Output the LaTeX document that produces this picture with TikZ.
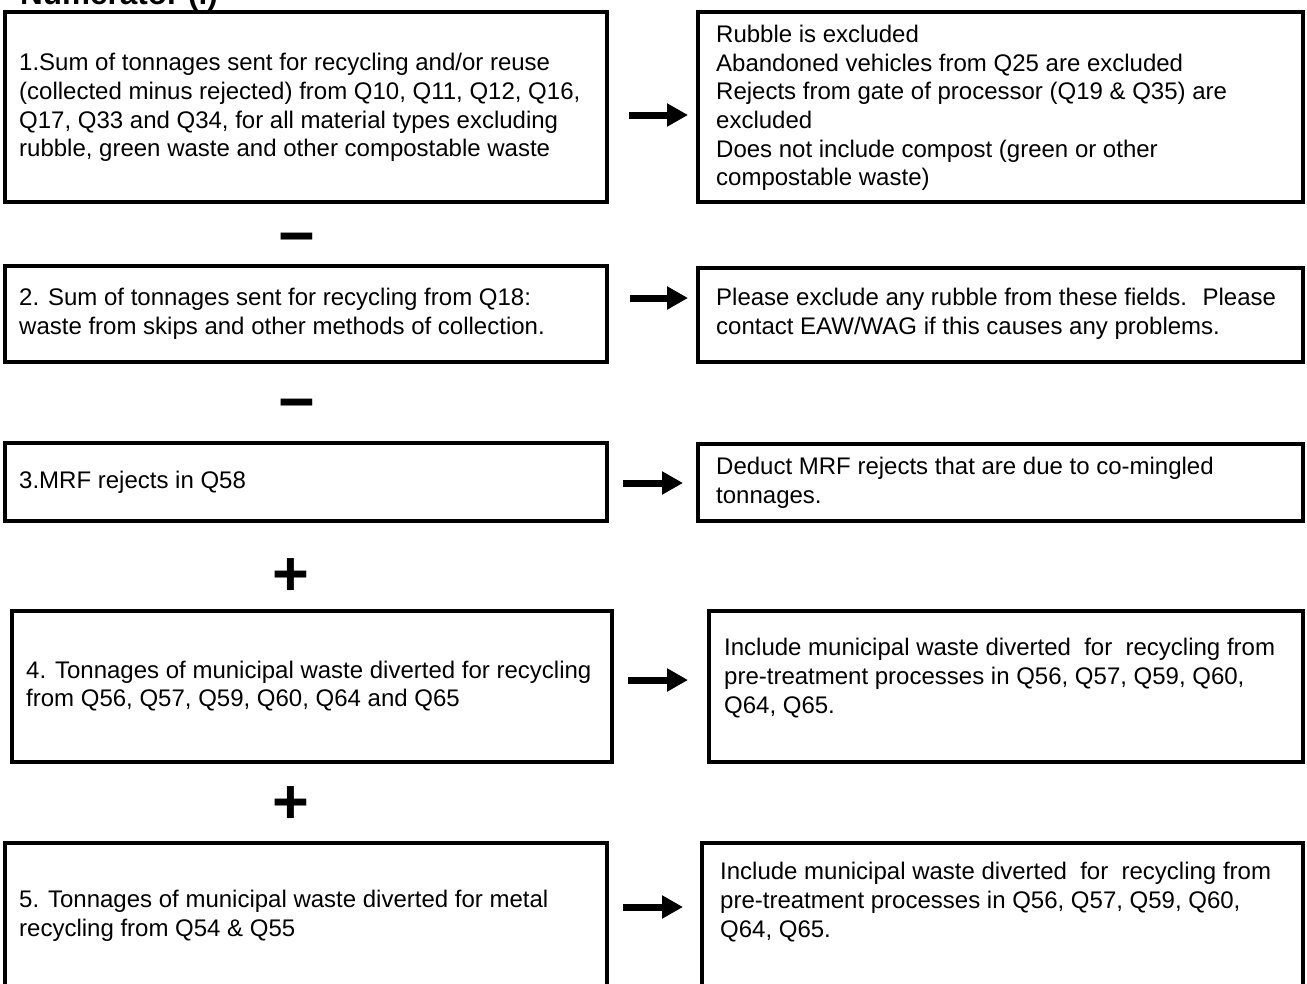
\documentclass[tikz,border=0pt]{standalone}
\usepackage{fontspec}
\setmainfont{Liberation Sans}
\usetikzlibrary{arrows.meta}

\tikzset{
  frame/.style={draw, line width=3.5pt, inner sep=0pt},
  txt/.style={anchor=west, align=left, inner sep=0pt, font=\fontsize{24}{28.7}\selectfont},
  sign/.style={anchor=base, inner sep=0pt, font=\fontsize{63}{63}\selectfont\bfseries},
  fat arrow/.style={line width=7pt, -{Triangle[length=21pt,width=22pt]}}
}

\begin{document}
\begin{tikzpicture}[x=1pt, y=-1pt]
  \useasboundingbox (0,0) rectangle (1307,983);
  % heading, cut by the page edge
  \node[anchor=base west, inner sep=0pt, font=\fontsize{31.5}{31.5}\selectfont\bfseries] (title) at (20,4) {Numerator (i)};

  % left column
  \node[frame, minimum width=602pt, minimum height=190pt] (b1) at (306,107) {};
  \node[frame, minimum width=602pt, minimum height=96pt] (b2) at (306,314) {};
  \node[frame, minimum width=602pt, minimum height=78pt] (b3) at (306,482) {};
  \node[frame, minimum width=600pt, minimum height=151pt] (b4) at (312,686.5) {};
  \node[frame, minimum width=602pt, minimum height=144pt] (b5) at (306,915) {};
  \node[txt] (t1) at (19,107.5) {1.Sum of tonnages sent for recycling and/or reuse\\(collected minus rejected) from Q10, Q11, Q12, Q16,\\Q17, Q33 and Q34, for all material types excluding\\rubble, green waste and other compostable waste};
  \node[txt] (t2) at (19,314) {2. Sum of tonnages sent for recycling from Q18:\\waste from skips and other methods of collection.};
  \node[txt] (t3) at (19,482) {3.MRF rejects in Q58};
  \node[txt] (t4) at (26,686) {4. Tonnages of municipal waste diverted for recycling\\from Q56, Q57, Q59, Q60, Q64 and Q65};
  \node[txt] (t5) at (19,915.5) {5. Tonnages of municipal waste diverted for metal\\recycling from Q54 \& Q55};

  % right column
  \node[frame, minimum width=605pt, minimum height=190pt] (r1) at (1000.5,107) {};
  \node[frame, minimum width=605pt, minimum height=94pt] (r2) at (1000.5,315) {};
  \node[frame, minimum width=605pt, minimum height=77pt] (r3) at (1000.5,482.5) {};
  \node[frame, minimum width=594pt, minimum height=151pt] (r4) at (1006,686.5) {};
  \node[frame, minimum width=601pt, minimum height=144pt] (r5) at (1002.5,915) {};
  \node[txt] (u1) at (716,108) {Rubble is excluded\\Abandoned vehicles from Q25 are excluded\\Rejects from gate of processor (Q19 \& Q35) are\\excluded\\Does not include compost (green or other\\compostable waste)};
  \node[txt] (u2) at (716,314) {Please exclude any rubble from these fields.~ Please\\contact EAW/WAG if this causes any problems.};
  \node[txt] (u3) at (716,483) {Deduct MRF rejects that are due to co-mingled\\tonnages.};
  \node[txt] (u4) at (724,678) {Include municipal waste diverted~ for~ recycling from\\pre-treatment processes in Q56, Q57, Q59, Q60,\\Q64, Q65.};
  \node[txt] (u5) at (720,902) {Include municipal waste diverted~ for~ recycling from\\pre-treatment processes in Q56, Q57, Q59, Q60,\\Q64, Q65.};

  % arrows between the columns
  \coordinate (p1) at (629,115); \coordinate (q1) at (688,115);
  \coordinate (p2) at (630,298); \coordinate (q2) at (688,298);
  \coordinate (p3) at (623,483); \coordinate (q3) at (683,483);
  \coordinate (p4) at (628,680); \coordinate (q4) at (688,680);
  \coordinate (p5) at (623,907); \coordinate (q5) at (683,907);
  \draw[fat arrow] (p1) -- (q1);
  \draw[fat arrow] (p2) -- (q2);
  \draw[fat arrow] (p3) -- (q3);
  \draw[fat arrow] (p4) -- (q4);
  \draw[fat arrow] (p5) -- (q5);

  % operators
  \node[sign] (m1) at (297,257) {−};
  \node[sign] (m2) at (297,423) {−};
  \node[sign] (s1) at (291,595) {+};
  \node[sign] (s2) at (291,823) {+};
\end{tikzpicture}
\end{document}
